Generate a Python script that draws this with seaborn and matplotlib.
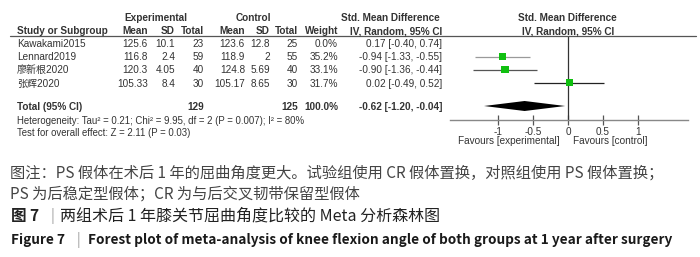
import matplotlib
matplotlib.use("Agg")
import matplotlib.pyplot as plt
import seaborn as sns
import pandas as pd
import numpy as np

# ---------------- data ----------------
studies = ["Kawakami2015", "Lennard2019", "廖新根2020", "张辉2020"]
exp_mean = ["125.6", "116.8", "120.3", "105.33"]
exp_sd = ["10.1", "2.4", "4.05", "8.4"]
exp_n = [23, 59, 40, 30]
ctl_mean = ["123.6", "118.9", "124.8", "105.17"]
ctl_sd = ["12.8", "2", "5.69", "8.65"]
ctl_n = [25, 55, 40, 30]
weight = [0.0, 35.2, 33.1, 31.7]
smd = [0.17, -0.94, -0.90, 0.02]
ci_lo = [-0.40, -1.33, -1.36, -0.49]
ci_hi = [0.74, -0.55, -0.44, 0.52]
total_exp, total_ctl = 129, 125
pooled = [-0.62, -1.20, -0.04]
ticks = [-1, -0.5, 0, 0.5, 1]
tick_labels = ["-1", "-0.5", "0", "0.5", "1"]
heterogeneity = "Heterogeneity: Tau² = 0.21; Chi² = 9.95, df = 2 (P = 0.007); I² = 80%"
overall = "Test for overall effect: Z = 2.11 (P = 0.03)"
caption1 = "图注：PS 假体在术后 1 年的屈曲角度更大。试验组使用 CR 假体置换，对照组使用 PS 假体置换；"
caption2 = "PS 为后稳定型假体；CR 为与后交叉韧带保留型假体"
title_cn_a = "图 7"
title_cn_b = "两组术后 1 年膝关节屈曲角度比较的 Meta 分析森林图"
title_en_a = "Figure 7"
title_en_b = "Forest plot of meta-analysis of knee flexion angle of both groups at 1 year after surgery"

df = pd.DataFrame({"study": studies, "smd": smd, "lo": ci_lo, "hi": ci_hi, "w": weight})
df["row"] = np.arange(len(df))

sns.set_theme(style="white")
plt.rcParams["font.family"] = ["Liberation Sans", "Noto Sans CJK SC", "DejaVu Sans"]

W, H = 700, 257
fig = plt.figure(figsize=(W / 100, H / 100), dpi=100)


def fx(px):
    return px / W


def fy(py):
    return 1 - py / H


TXT = "#333333"
FS = 7.2
ROW0, DROW = 44, 13.2


def row_y(i):
    return ROW0 + DROW * i


def t(px, py, s, ha="left", bold=False, size=FS, color=TXT, family=None):
    kw = {}
    if family is not None:
        kw["family"] = family
    fig.text(fx(px), fy(py), s, ha=ha, va="center", fontsize=size, color=color,
             fontweight="bold" if bold else "normal", **kw)


# headers
t(156, 18, "Experimental", ha="center", bold=True)
t(253, 18, "Control", ha="center", bold=True)
t(390, 18, "Std. Mean Difference", ha="center", bold=True)
t(567, 18, "Std. Mean Difference", ha="center", bold=True)
t(17, 31, "Study or Subgroup", bold=True)
t(148, 31, "Mean", ha="right", bold=True)
t(175, 31, "SD", ha="right", bold=True)
t(204, 31, "Total", ha="right", bold=True)
t(245, 31, "Mean", ha="right", bold=True)
t(270, 31, "SD", ha="right", bold=True)
t(298, 31, "Total", ha="right", bold=True)
t(338, 31, "Weight", ha="right", bold=True)
t(442, 31, "IV, Random, 95% CI", ha="right", bold=True)
t(568, 31, "IV, Random, 95% CI", ha="center", bold=True)
fig.add_artist(plt.Line2D([fx(10), fx(696)], [fy(36.5), fy(36.5)], color="#555555", lw=0.9))

# study rows
for i in range(len(studies)):
    y = row_y(i)
    t(17, y, studies[i])
    t(148, y, exp_mean[i], ha="right")
    t(175, y, exp_sd[i], ha="right")
    t(204, y, str(exp_n[i]), ha="right")
    t(245, y, ctl_mean[i], ha="right")
    t(270, y, ctl_sd[i], ha="right")
    t(298, y, str(ctl_n[i]), ha="right")
    t(338, y, f"{weight[i]:.1f}%", ha="right")
    t(442, y, f"{smd[i]:.2f} [{ci_lo[i]:.2f}, {ci_hi[i]:.2f}]", ha="right")

# total row
YT = 107
t(17, YT, "Total (95% CI)", bold=True)
t(204, YT, str(total_exp), ha="right", bold=True)
t(298, YT, str(total_ctl), ha="right", bold=True)
t(338, YT, f"{sum(weight):.1f}%", ha="right", bold=True)
t(442, YT, f"{pooled[0]:.2f} [{pooled[1]:.2f}, {pooled[2]:.2f}]", ha="right", bold=True)
t(17, 121, heterogeneity, size=6.9)
t(17, 133, overall, size=6.9)

# ---------------- forest axes ----------------
X0, X1, XZERO, PXU = 450, 688, 568, 70.0
Y_TOP, Y_BOT = 36.5, 120
ax = fig.add_axes([fx(X0), fy(Y_BOT), (X1 - X0) / W, (Y_BOT - Y_TOP) / H])
ax.set_xlim((X0 - XZERO) / PXU, (X1 - XZERO) / PXU)
ax.set_ylim((Y_BOT - ROW0) / DROW, (Y_TOP - ROW0) / DROW)
ax.set_facecolor("none")

shown = df[df["w"] > 0]
ci_colors = {1: "#9a9a9a", 2: "#555555", 3: "#222222"}
for _, r in shown.iterrows():
    ax.hlines(r["row"] - 0.05, r["lo"], r["hi"], color=ci_colors.get(int(r["row"]), "#333333"), lw=0.9)
ax.axvline(0, color="#333333", lw=0.9)
sns.scatterplot(data=shown, x="smd", y=shown["row"] - 0.05, marker="s", color="#10c010",
                s=shown["w"] * 0.8, linewidth=0, legend=False, ax=ax, zorder=3)

yd = (106 - ROW0) / DROW
hh = 5 / DROW
ax.fill([pooled[1], pooled[0], pooled[2], pooled[0]], [yd, yd - hh, yd, yd + hh],
        color="black", lw=0)

for s in ["top", "right", "left"]:
    ax.spines[s].set_visible(False)
ax.spines["bottom"].set_color("#888888")
ax.spines["bottom"].set_linewidth(1.0)
ax.set_xticks(ticks)
ax.set_xticklabels(tick_labels)
ax.set_yticks([])
ax.set_xlabel("")
ax.set_ylabel("")
ax.tick_params(axis="x", direction="inout", length=7, width=0.9, color="#555555",
               labelsize=7.2, labelcolor=TXT, pad=1.5, bottom=True)

t(560, 141, "Favours [experimental]", ha="right", size=7.2)
t(573, 141, "Favours [control]", ha="left", size=7.2)

# ---------------- caption ----------------
CJK = ["Noto Sans CJK SC", "DejaVu Sans"]
t(10, 173, caption1, size=11.0, color="#444444", family=CJK)
t(10, 194, caption2, size=11.0, color="#444444", family=CJK)
fig.text(fx(11), fy(216), title_cn_a, ha="left", va="center", fontsize=11.2, color="#222222",
         fontweight="bold", family=CJK)
t(51, 216, "|", size=10.5, color="#999999", family=CJK)
t(60, 216, title_cn_b, size=11.5, color="#222222", family=CJK)
fig.text(fx(11), fy(240), title_en_a, ha="left", va="center", fontsize=9.8, color="#1a1a1a",
         fontweight="bold", family=CJK)
t(77, 240, "|", size=9.8, color="#999999", family=CJK)
fig.text(fx(88), fy(240), title_en_b, ha="left", va="center", fontsize=9.8, color="#1a1a1a",
         fontweight="bold", family=CJK)

fig.savefig("out.png", dpi=100)
